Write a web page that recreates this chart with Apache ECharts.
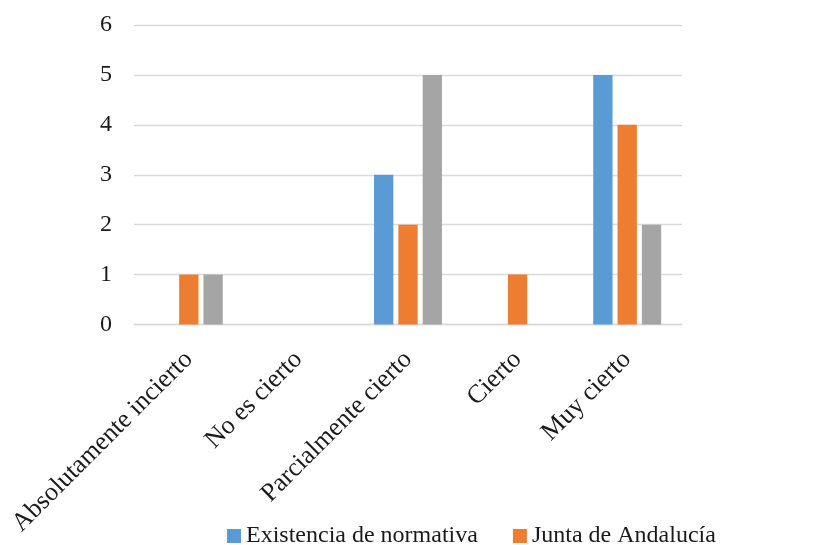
<!DOCTYPE html>
<html>
<head>
<meta charset="utf-8">
<style>
  html, body { margin: 0; padding: 0; background: #fff; }
  #chart { width: 822px; height: 545px; }
</style>
<script src="https://cdn.jsdelivr.net/npm/echarts@6/dist/echarts.min.js"></script>
</head>
<body>
<div id="chart"></div>
<script>
// Categories and values per series
const categories = ['Absolutamente incierto', 'No es cierto', 'Parcialmente cierto', 'Cierto', 'Muy cierto'];
const seriesNames = ['Existencia de normativa', 'Junta de Andalucía', 'Otros'];
const existenciaNormativa = [0, 0, 3, 0, 5];
const juntaAndalucia = [1, 0, 2, 1, 4];
const otros = [1, 0, 5, 0, 2];
const yTicks = [0, 1, 2, 3, 4, 5, 6];

const colors = ['#5B9BD5', '#ED7D31', '#A5A5A5'];
const font = '"Liberation Serif", "Times New Roman", serif';
const textColor = '#1a1a1a';

const chart = echarts.init(document.getElementById('chart'), null, { renderer: 'canvas' });

function barSeries(name, data, i) {
  return {
    name: name,
    type: 'bar',
    data: data,
    barGap: '26%',
    barCategoryGap: '38%',
    itemStyle: { color: colors[i] },
    silent: true
  };
}

chart.setOption({
  animation: false,
  textStyle: { fontFamily: font },
  grid: { left: 134, right: 140, top: 25, bottom: 220.5, containLabel: false },
  legend: {
    data: seriesNames.slice(0, 2),
    left: 222,
    top: 519,
    itemWidth: 14,
    itemHeight: 14,
    itemGap: 35,
    icon: 'rect',
    textStyle: { fontFamily: font, fontSize: 24, color: textColor, padding: [0, 0, 0, 0] }
  },
  xAxis: {
    type: 'category',
    data: categories,
    axisLine: { show: true, lineStyle: { color: '#D9D9D9', width: 1.3 } },
    axisTick: { show: false },
    axisLabel: {
      rotate: 45,
      margin: 31,
      fontFamily: font,
      fontSize: 26,
      color: textColor,
      interval: 0
    }
  },
  yAxis: {
    type: 'value',
    min: yTicks[0],
    max: yTicks[yTicks.length - 1],
    interval: 1,
    axisLine: { show: false },
    axisTick: { show: false },
    splitLine: { lineStyle: { color: '#D9D9D9', width: 1.3 } },
    axisLabel: {
      margin: 22,
      fontFamily: font,
      fontSize: 24,
      color: textColor
    }
  },
  series: [
    barSeries(seriesNames[0], existenciaNormativa, 0),
    barSeries(seriesNames[1], juntaAndalucia, 1),
    barSeries(seriesNames[2], otros, 2)
  ]
});
</script>
</body>
</html>
